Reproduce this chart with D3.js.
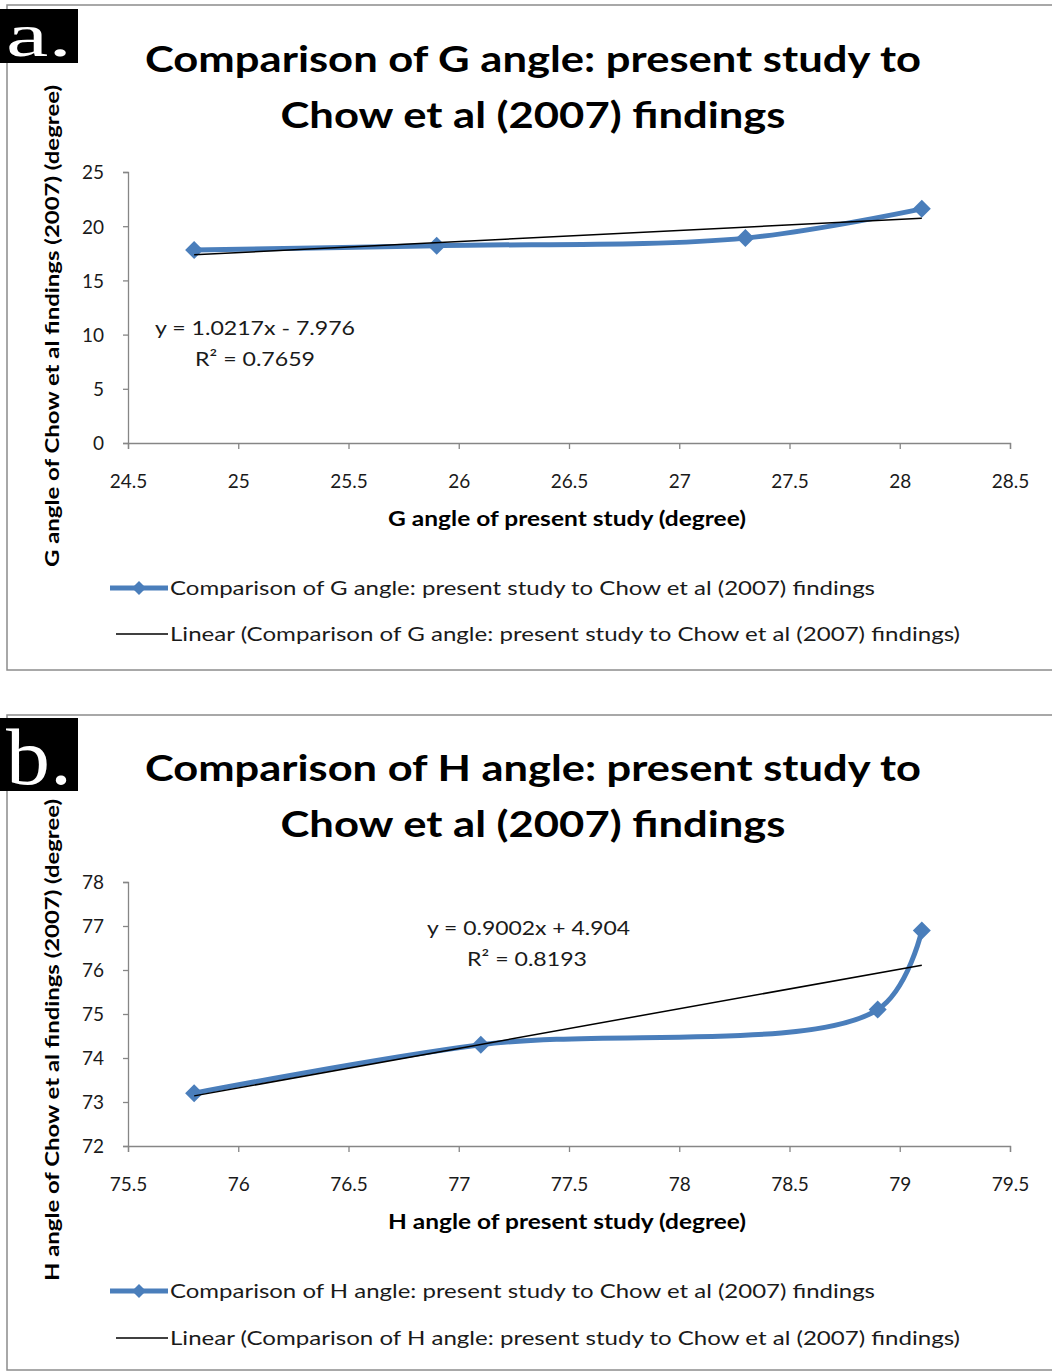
<!DOCTYPE html>
<html><head><meta charset="utf-8">
<script src="https://cdn.jsdelivr.net/npm/d3@7"></script>
<style>body{margin:0;background:#fff} svg{display:block}</style>
</head><body>
<svg id="c" width="1052" height="1372"></svg>
<script>
// ---------- data ----------
const gPresent = [24.8, 25.9, 27.3, 28.1];
const gChow    = [17.8, 18.2, 18.9, 21.6];
const gXTicks  = [24.5, 25, 25.5, 26, 26.5, 27, 27.5, 28, 28.5];
const gYTicks  = [0, 5, 10, 15, 20, 25];
const gFit     = [1.0217, -7.976, 0.7659];   // slope, intercept, R2

const hPresent = [75.8, 77.1, 78.9, 79.1];
const hChow    = [73.2, 74.3, 75.1, 76.9];
const hXTicks  = [75.5, 76, 76.5, 77, 77.5, 78, 78.5, 79, 79.5];
const hYTicks  = [72, 73, 74, 75, 76, 77, 78];
const hFit     = [0.9002, 4.904, 0.8193];

const gTitle  = ["Comparison of G angle: present study to", "Chow et al (2007) findings"];
const hTitle  = ["Comparison of H angle: present study to", "Chow et al (2007) findings"];
const gYLabel = "G angle of Chow et al findings  (2007) (degree)";
const hYLabel = "H angle of Chow et al findings  (2007) (degree)";
const gXLabel = "G angle of present study (degree)";
const hXLabel = "H angle of present study (degree)";
const gLegend = ["Comparison of G angle: present study to Chow et al (2007) findings",
                 "Linear (Comparison of G angle: present study to Chow et al (2007) findings)"];
const hLegend = ["Comparison of H angle: present study to Chow et al (2007) findings",
                 "Linear (Comparison of H angle: present study to Chow et al (2007) findings)"];

// ---------- layout ----------
const BLUE = "#4a7ebb", AXIS = "#868686", FONT = "Lato, 'Open Sans', sans-serif";
const panels = [
  {tag:"a.", xs:gPresent, ys:gChow, xTicks:gXTicks, yTicks:gYTicks, fit:gFit,
   title:gTitle, yLabel:gYLabel, xLabel:gXLabel, legend:gLegend,
   frameTop:5, frameBottom:670, tagY:9, tagH:54, tagBase:56, tagSize:62,
   titleBase:[72,128], plot:{l:128, r:1010, t:172, b:443},
   xLabelBase:526, yLabelC:326, eq:{x1:155, y1:335, x2:195, y2:366, w1:200},
   legY:[588,634]},
  {tag:"b.", xs:hPresent, ys:hChow, xTicks:hXTicks, yTicks:hYTicks, fit:hFit,
   title:hTitle, yLabel:hYLabel, xLabel:hXLabel, legend:hLegend,
   frameTop:715, frameBottom:1370, tagY:718, tagH:73, tagBase:784, tagSize:80,
   titleBase:[781,837], plot:{l:128, r:1010, t:882, b:1146},
   xLabelBase:1229, yLabelC:1040, eq:{x1:427, y1:935, x2:467, y2:966, w1:203},
   legY:[1291,1338]}
];

const svg = d3.select("#c");
const fitLen = (sel, w) => sel.attr("textLength", w).attr("lengthAdjust", "spacingAndGlyphs");
const diamond = r => `M0,${-r}L${r},0L0,${r}L${-r},0Z`;

panels.forEach((p, i) => {
  const g = svg.append("g");
  // frame
  g.append("rect").attr("x", 7).attr("y", p.frameTop).attr("width", 1100)
    .attr("height", p.frameBottom - p.frameTop)
    .attr("fill", "none").attr("stroke", "#8c8c8c").attr("stroke-width", 1.5);
  // tag box
  g.append("rect").attr("x", 0).attr("y", p.tagY).attr("width", 78).attr("height", p.tagH).attr("fill", "#000");
  fitLen(g.append("text")
    .attr("x", 6).attr("y", p.tagBase).attr("fill", "#fff")
    .attr("font-family", "'Liberation Serif', 'DejaVu Serif', serif")
    .attr("font-size", p.tagSize).text(p.tag), 66);

  // title
  p.title.forEach((t, k) => {
    const tx = g.append("text").attr("x", 533).attr("y", p.titleBase[k]).attr("text-anchor", "middle")
      .attr("font-family", FONT).attr("font-weight", 700).attr("font-size", 37).attr("fill", "#000").text(t);
    fitLen(tx, k === 0 ? 776 : 505);
  });

  // scales
  const x = d3.scaleLinear().domain(d3.extent(p.xTicks)).range([p.plot.l, p.plot.r]);
  const y = d3.scaleLinear().domain(d3.extent(p.yTicks)).range([p.plot.b, p.plot.t]);

  // axes
  const xa = g.append("g").attr("transform", `translate(0,${p.plot.b})`)
    .call(d3.axisBottom(x).tickValues(p.xTicks).tickSize(6).tickPadding(26).tickFormat(d3.format("")));
  const ya = g.append("g").attr("transform", `translate(${p.plot.l},0)`)
    .call(d3.axisLeft(y).tickValues(p.yTicks).tickSize(5).tickPadding(19).tickFormat(d3.format("")));
  [xa, ya].forEach(a => {
    a.selectAll("path,line").attr("stroke", AXIS).attr("stroke-width", 1.3);
    a.selectAll("text").attr("font-family", FONT).attr("font-size", 19).attr("fill", "#1a1a1a");
  });
  ya.selectAll("text").attr("dy", "0.36em");

  // axis labels
  fitLen(g.append("text").attr("x", 567).attr("y", p.xLabelBase).attr("text-anchor", "middle")
    .attr("font-family", FONT).attr("font-weight", 700).attr("font-size", 20).attr("fill", "#000")
    .text(p.xLabel), 358);
  fitLen(g.append("text").attr("transform", `translate(59,${p.yLabelC}) rotate(-90)`)
    .attr("text-anchor", "middle").attr("font-family", FONT).attr("font-weight", 700)
    .attr("font-size", 18).attr("fill", "#000").text(p.yLabel), 482);

  // series (smoothed line + diamonds)
  const pts = p.xs.map((v, j) => [v, p.ys[j]]);
  const line = d3.line().x(d => x(d[0])).y(d => y(d[1])).curve(d3.curveCatmullRom.alpha(0.5));
  g.append("path").datum(pts).attr("d", line).attr("fill", "none")
    .attr("stroke", BLUE).attr("stroke-width", 5).attr("stroke-linejoin", "round");
  g.selectAll(".mk" + i).data(pts).join("path")
    .attr("transform", d => `translate(${x(d[0])},${y(d[1])})`)
    .attr("d", diamond(9)).attr("fill", BLUE);

  // linear trendline
  const [m, c, r2] = p.fit;
  const ext = d3.extent(p.xs);
  g.append("line").attr("x1", x(ext[0])).attr("y1", y(m * ext[0] + c))
    .attr("x2", x(ext[1])).attr("y2", y(m * ext[1] + c))
    .attr("stroke", "#000").attr("stroke-width", 1.5);

  // equation
  const eq1 = `y = ${m}x ${c < 0 ? "-" : "+"} ${Math.abs(c)}`;
  const eq2 = `R² = ${r2}`;
  fitLen(g.append("text").attr("x", p.eq.x1).attr("y", p.eq.y1).attr("font-family", FONT)
    .attr("font-size", 20).attr("fill", "#1a1a1a").text(eq1), p.eq.w1);
  fitLen(g.append("text").attr("x", p.eq.x2).attr("y", p.eq.y2).attr("font-family", FONT)
    .attr("font-size", 20).attr("fill", "#1a1a1a").text(eq2), 120);

  // legend
  g.append("line").attr("x1", 110).attr("x2", 168).attr("y1", p.legY[0]).attr("y2", p.legY[0])
    .attr("stroke", BLUE).attr("stroke-width", 5);
  g.append("path").attr("transform", `translate(139,${p.legY[0]})`).attr("d", diamond(7)).attr("fill", BLUE);
  g.append("line").attr("x1", 116).attr("x2", 168).attr("y1", p.legY[1]).attr("y2", p.legY[1])
    .attr("stroke", "#000").attr("stroke-width", 1.5);
  fitLen(g.append("text").attr("x", 170).attr("y", p.legY[0] + 7).attr("font-family", FONT)
    .attr("font-size", 20).attr("fill", "#1a1a1a").text(p.legend[0]), 705);
  fitLen(g.append("text").attr("x", 170).attr("y", p.legY[1] + 7).attr("font-family", FONT)
    .attr("font-size", 20).attr("fill", "#1a1a1a").text(p.legend[1]), 790);
});
</script>
</body></html>
